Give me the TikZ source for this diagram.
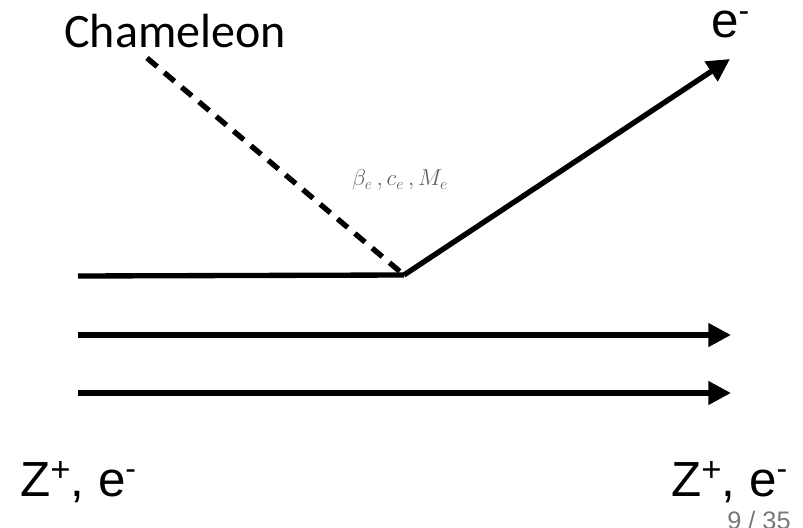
\documentclass[tikz,border=0pt]{standalone}
\usepackage{fontspec}
\setmainfont{Liberation Sans}
\newfontfamily\chamfont{Carlito}
\usetikzlibrary{arrows.meta}
\definecolor{lbl}{RGB}{95,95,95}
\definecolor{pgc}{RGB}{120,120,120}
\tikzset{
  beam/.style={line width=4pt},
  beamarrow/.style={beam,-{Triangle[length=17pt,width=17pt]}},
  chamline/.style={line width=4pt,dash pattern=on 10pt off 7pt},
  bigtxt/.style={font=\fontsize{37}{40}\selectfont,inner sep=0pt,anchor=base west},
}
\newcommand{\supm}{\raisebox{0.33em}{\fontsize{24}{24}\selectfont -}}
\newcommand{\supp}{\raisebox{0.3em}{\fontsize{26}{26}\selectfont +}}
\begin{document}
\begin{tikzpicture}[x=0.75pt,y=-0.75pt]
\useasboundingbox (0,0) rectangle (803,528);
\coordinate (a1) at (78,276);
\coordinate (v) at (404,275);
\coordinate (t1) at (730,59);
\coordinate (c0) at (147,58);
\coordinate (a2) at (78,335);
\coordinate (t2) at (731,335);
\coordinate (a3) at (78,393);
\coordinate (t3) at (731,393);
\draw[beam] (a1) -- (v);
\draw[beamarrow] (v) -- (t1);
\draw[chamline] (c0) -- (v);
\draw[beamarrow] (a2) -- (t2);
\draw[beamarrow] (a3) -- (t3);
\node[inner sep=0pt,anchor=base west,font=\chamfont\fontsize{36}{40}\selectfont] (cham) at (64,48) {Chameleon};
\node[inner sep=0pt,text=lbl,font=\fontsize{18}{20}\selectfont] (par) at (400,180) {$\beta_e\,, c_e\,, M_e$};
\node[bigtxt] (eout) at (711,38) {e\supm};
\node[bigtxt] (zl) at (20,496) {Z\supp, e\supm};
\node[bigtxt] (zr) at (671,496) {Z\supp, e\supm};
\node[inner sep=0pt,anchor=base west,text=pgc,font=\fontsize{19}{20}\selectfont] (pg) at (727,529) {9 / 35};
\end{tikzpicture}
\end{document}
